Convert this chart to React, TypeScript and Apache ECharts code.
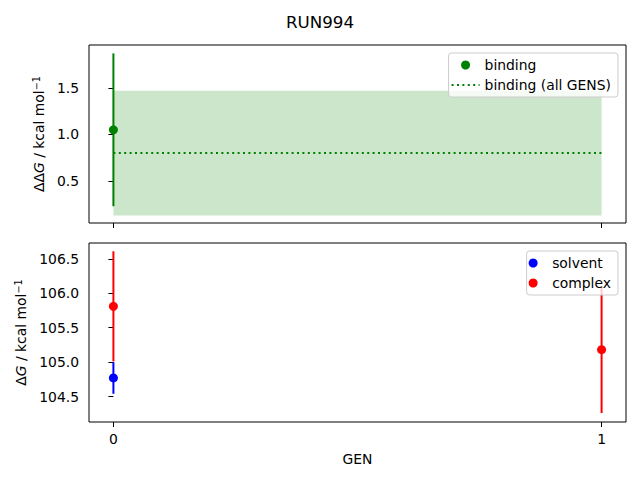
import React, { useEffect, useRef } from "react";
import * as echarts from "echarts";

// values
const gens = [0, 1];
const bindingGens = [0];
const bindingValues = [1.05];
const bindingErrors = [0.82];
const bindingAllValue = 0.8;
const bindingAllError = 0.67;
const solventGens = [0];
const solventValues = [104.77];
const solventErrors = [0.23];
const complexGens = [0, 1];
const complexValues = [105.81, 105.18];
const complexErrors = [0.8, 0.92];
const topTicks = [0.5, 1.0, 1.5];
const bottomTicks = [104.5, 105.0, 105.5, 106.0, 106.5];

const FONT = "DejaVu Sans";
const GREEN = "#008000";
const BLUE = "#0000ff";
const RED = "#ff0000";

const errorRows = (xs: number[], vals: number[], errs: number[]) =>
  xs.map((x, i) => [x, vals[i] - errs[i], vals[i] + errs[i]]);

const errorBarSeries = (
  name: string,
  rows: number[][],
  color: string,
  axis: number
) => ({
  name,
  type: "custom",
  xAxisIndex: axis,
  yAxisIndex: axis,
  data: rows,
  renderItem: (_params: any, api: any) => {
    const p1 = api.coord([api.value(0), api.value(1)]);
    const p2 = api.coord([api.value(0), api.value(2)]);
    return {
      type: "line",
      shape: { x1: p1[0], y1: p1[1], x2: p2[0], y2: p2[1] },
      style: { stroke: color, lineWidth: 2 },
    };
  },
});

const axisName = (prefix: string) =>
  `{a|${prefix}}{g|G}{a| / kcal mol}{s|−1}`;

const nameRich = {
  a: { fontFamily: FONT, fontSize: 13.9, color: "#000" },
  g: { fontFamily: FONT, fontSize: 13.9, fontStyle: "italic", color: "#000" },
  s: { fontFamily: FONT, fontSize: 9.7, color: "#000", verticalAlign: "top", padding: [0, 0, 6, 0] },
};

const App: React.FC = () => {
  const chartRef = useRef<HTMLDivElement>(null);

  useEffect(() => {
    if (!chartRef.current) return;
    const chart = echarts.init(chartRef.current, undefined, { renderer: "svg" });

    const xAxisBase = {
      type: "value",
      min: -0.05,
      max: 1.05,
      splitLine: { show: false },
      axisLine: { show: false },
      axisTick: { show: true, customValues: gens, length: 5, lineStyle: { color: "#000", width: 1 } },
    };

    const yAxisBase = {
      type: "value",
      nameLocation: "middle",
      nameRotate: 90,
      splitLine: { show: false },
      axisLine: { show: false },
      nameTextStyle: { rich: nameRich },
    };

    const legendBase = {
      orient: "vertical",
      right: 22,
      align: "left",
      itemWidth: 28,
      itemHeight: 9,
      itemGap: 6,
      padding: [5, 7, 5, 2],
      backgroundColor: "rgba(255,255,255,0.8)",
      borderColor: "#cccccc",
      borderWidth: 1,
      borderRadius: 3,
      textStyle: { fontFamily: FONT, fontSize: 13.9, color: "#000" },
    };

    const option = {
      animation: false,
      textStyle: { fontFamily: FONT },
      title: {
        text: "RUN994",
        left: "center",
        top: 8,
        textStyle: { fontFamily: FONT, fontSize: 16.7, fontWeight: "normal", color: "#000" },
      },
      grid: [
        { left: 89, right: 14, top: 45, height: 178, show: true, borderColor: "#000", borderWidth: 1, backgroundColor: "transparent" },
        { left: 89, right: 14, top: 243, height: 179, show: true, borderColor: "#000", borderWidth: 1, backgroundColor: "transparent" },
      ],
      xAxis: [
        { ...xAxisBase, gridIndex: 0, axisLabel: { show: false } },
        {
          ...xAxisBase,
          gridIndex: 1,
          name: "GEN",
          nameLocation: "middle",
          nameGap: 30,
          nameTextStyle: { fontFamily: FONT, fontSize: 13.9, color: "#000" },
          axisLabel: {
            customValues: gens,
            margin: 10,
            fontFamily: FONT,
            fontSize: 13.9,
            color: "#000",
          },
        },
      ],
      yAxis: [
        {
          ...yAxisBase,
          gridIndex: 0,
          min: 0.05,
          max: 1.96,
          name: axisName("ΔΔ"),
          nameGap: 37,
          axisTick: { customValues: topTicks, length: 5, lineStyle: { color: "#000", width: 1 } },
          axisLabel: {
            customValues: topTicks,
            margin: 10,
            fontFamily: FONT,
            fontSize: 13.9,
            color: "#000",
            formatter: (v: number) => v.toFixed(1),
          },
        },
        {
          ...yAxisBase,
          gridIndex: 1,
          min: 104.13,
          max: 106.73,
          name: axisName("Δ"),
          nameGap: 55,
          axisTick: { customValues: bottomTicks, length: 5, lineStyle: { color: "#000", width: 1 } },
          axisLabel: {
            customValues: bottomTicks,
            margin: 10,
            fontFamily: FONT,
            fontSize: 13.9,
            color: "#000",
            formatter: (v: number) => v.toFixed(1),
          },
        },
      ],
      legend: [
        {
          ...legendBase,
          top: 53,
          data: [
            "binding",
            { name: "binding (all GENS)", itemStyle: { opacity: 0 } },
          ],
        },
        { ...legendBase, top: 251, data: ["solvent", "complex"] },
      ],
      series: [
        {
          name: "band",
          type: "custom",
          xAxisIndex: 0,
          yAxisIndex: 0,
          data: [[gens[0], gens[gens.length - 1], bindingAllValue - bindingAllError, bindingAllValue + bindingAllError]],
          renderItem: (_params: any, api: any) => {
            const p1 = api.coord([api.value(0), api.value(3)]);
            const p2 = api.coord([api.value(1), api.value(2)]);
            return {
              type: "rect",
              shape: { x: p1[0], y: p1[1], width: p2[0] - p1[0], height: p2[1] - p1[1] },
              style: { fill: "rgba(0,128,0,0.2)" },
            };
          },
        },
        {
          name: "binding (all GENS)",
          type: "line",
          xAxisIndex: 0,
          yAxisIndex: 0,
          symbol: "none",
          data: gens.map((g) => [g, bindingAllValue]),
          lineStyle: { color: GREEN, width: 2, type: [2, 3.4] },
          itemStyle: { color: GREEN },
        },
        errorBarSeries("binding err", errorRows(bindingGens, bindingValues, bindingErrors), GREEN, 0),
        {
          name: "binding",
          type: "scatter",
          xAxisIndex: 0,
          yAxisIndex: 0,
          symbolSize: 9,
          data: bindingGens.map((g, i) => [g, bindingValues[i]]),
          itemStyle: { color: GREEN, opacity: 1 },
        },
        errorBarSeries("solvent err", errorRows(solventGens, solventValues, solventErrors), BLUE, 1),
        {
          name: "solvent",
          type: "scatter",
          xAxisIndex: 1,
          yAxisIndex: 1,
          symbolSize: 9,
          data: solventGens.map((g, i) => [g, solventValues[i]]),
          itemStyle: { color: BLUE, opacity: 1 },
        },
        errorBarSeries("complex err", errorRows(complexGens, complexValues, complexErrors), RED, 1),
        {
          name: "complex",
          type: "scatter",
          xAxisIndex: 1,
          yAxisIndex: 1,
          symbolSize: 9,
          data: complexGens.map((g, i) => [g, complexValues[i]]),
          itemStyle: { color: RED, opacity: 1 },
        },
      ],
    };

    chart.setOption(option as any);
    return () => {
      chart.dispose();
    };
  }, []);

  return (
    <div
      ref={chartRef}
      style={{ position: "fixed", left: 0, top: 0, width: 640, height: 480, background: "#fff" }}
    />
  );
};

export default App;
